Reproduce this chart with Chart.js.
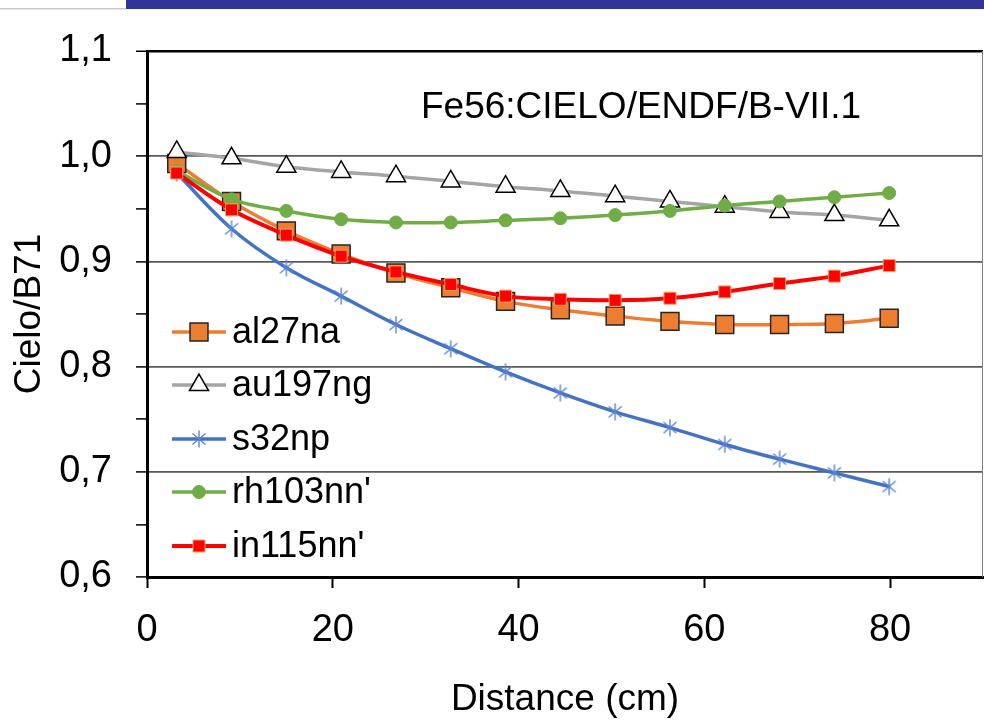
<!DOCTYPE html>
<html>
<head>
<meta charset="utf-8">
<script src="https://cdn.jsdelivr.net/npm/chart.js@4/dist/chart.umd.min.js"></script>
<style>
	body { margin: 0; background: #fff; }
	#wrap { width: 984px; height: 722px; }
</style>
</head>
<body>
<div id="wrap"><canvas id="cielo-chart" width="984" height="722"></canvas></div>
<script>
// distances of the activation foils (cm)
const distances = [3.2, 9.1, 15.0, 20.9, 26.8, 32.7, 38.6, 44.5, 50.4, 56.3, 62.2, 68.1, 74.0, 79.9];

// Cielo / B71 ratios
const al27na = [0.993, 0.957, 0.929, 0.907, 0.889, 0.875, 0.862, 0.854, 0.848, 0.843, 0.840, 0.840, 0.841, 0.846];
const au197ng = [1.004, 0.998, 0.990, 0.985, 0.981, 0.976, 0.971, 0.967, 0.962, 0.957, 0.952, 0.947, 0.944, 0.939];
const s32np = [0.984, 0.931, 0.894, 0.867, 0.840, 0.817, 0.795, 0.775, 0.757, 0.742, 0.726, 0.712, 0.699, 0.686];
const rh103nn = [0.986, 0.959, 0.948, 0.940, 0.937, 0.937, 0.939, 0.941, 0.944, 0.948, 0.953, 0.957, 0.961, 0.965];
const in115nn = [0.984, 0.949, 0.925, 0.905, 0.890, 0.878, 0.867, 0.864, 0.863, 0.865, 0.871, 0.879, 0.886, 0.896];

const seriesNames = ['al27na', 'au197ng', 's32np', "rh103nn'", "in115nn'"];
const xTicks = [0, 20, 40, 60, 80];
const yTicks = [0.6, 0.7, 0.8, 0.9, 1.0, 1.1];
const chartTitle = 'Fe56:CIELO/ENDF/B-VII.1';

const FONT = "'Liberation Sans', Arial, sans-serif";

const toPoints = (ys) => ys.map((y, i) => ({ x: distances[i], y: y }));

// six-armed asterisk like the excel marker
const makeAsterisk = () => {
	const c = document.createElement('canvas');
	c.width = 18;
	c.height = 18;
	const g = c.getContext('2d');
	g.strokeStyle = '#5B83D0';
	g.lineWidth = 1.4;
	g.beginPath();
	g.moveTo(9, 0.5); g.lineTo(9, 17.5);
	g.moveTo(2.5, 3.5); g.lineTo(15.5, 14.5);
	g.moveTo(15.5, 3.5); g.lineTo(2.5, 14.5);
	g.stroke();
	return c;
};

const datasets = [
	{
		label: seriesNames[0], data: toPoints(al27na), order: 5,
		borderColor: '#ED7D31', borderWidth: 3.5,
		pointStyle: 'rect', pointRadius: 12.7, pointBackgroundColor: '#ED7D31',
		pointBorderColor: '#262626', pointBorderWidth: 1.5
	},
	{
		label: seriesNames[1], data: toPoints(au197ng), order: 4,
		borderColor: '#A5A5A5', borderWidth: 3.5,
		pointStyle: 'triangle', pointRadius: 11, pointBackgroundColor: '#FFFFFF',
		pointBorderColor: '#000000', pointBorderWidth: 1.5
	},
	{
		label: seriesNames[2], data: toPoints(s32np), order: 3,
		borderColor: '#4472C4', borderWidth: 3.5,
		pointStyle: makeAsterisk(), pointRadius: 9, pointBackgroundColor: '#4472C4',
		pointBorderColor: '#5B83D0', pointBorderWidth: 1.2
	},
	{
		label: seriesNames[3], data: toPoints(rh103nn), order: 2,
		borderColor: '#70AD47', borderWidth: 3.5,
		pointStyle: 'circle', pointRadius: 6.5, pointBackgroundColor: '#70AD47',
		pointBorderColor: '#70AD47', pointBorderWidth: 1
	},
	{
		label: seriesNames[4], data: toPoints(in115nn), order: 1,
		borderColor: '#FF0000', borderWidth: 4,
		pointStyle: 'rect', pointRadius: 8.5, pointBackgroundColor: '#FF0000',
		pointBorderColor: '#F4A460', pointBorderWidth: 1
	}
];
datasets.forEach(d => { d.tension = 0.35; d.fill = false; d.pointHoverRadius = d.pointRadius; });

const isTenth = (v) => Math.round(v * 100) % 10 === 0;

// slide bar, border, title and legend drawn inside the plot
const decorations = {
	id: 'decorations',
	beforeDraw: (chart) => {
		const ctx = chart.ctx;
		ctx.save();
		ctx.fillStyle = '#333399';
		ctx.fillRect(126, 0, chart.width - 126, 9);
		ctx.fillStyle = '#C8C8C8';
		ctx.fillRect(0, 8, 126, 1.5);
		ctx.restore();
	},
	afterDraw: (chart) => {
		const ctx = chart.ctx;
		const area = chart.chartArea;
		ctx.save();
		ctx.strokeStyle = '#808080';
		ctx.lineWidth = 1;
		ctx.beginPath();
		ctx.moveTo(area.right - 0.5, area.top);
		ctx.lineTo(area.right - 0.5, area.bottom);
		ctx.stroke();

		ctx.fillStyle = '#000';
		ctx.font = `37px ${FONT}`;
		ctx.textAlign = 'center';
		ctx.textBaseline = 'middle';
		ctx.fillText(chartTitle, 641, 108);

		const rowY = [332, 385, 439, 492, 546];
		chart.data.datasets.forEach((d, i) => {
			const y = rowY[i];
			ctx.strokeStyle = d.borderColor;
			ctx.lineWidth = d.borderWidth;
			ctx.beginPath();
			ctx.moveTo(172, y);
			ctx.lineTo(226, y);
			ctx.stroke();
			ctx.fillStyle = d.pointBackgroundColor;
			ctx.strokeStyle = d.pointBorderColor;
			ctx.lineWidth = d.pointBorderWidth;
			if (Chart.helpers && Chart.helpers.drawPoint) {
				Chart.helpers.drawPoint(ctx, { pointStyle: d.pointStyle, radius: d.pointRadius, rotation: 0, borderWidth: d.pointBorderWidth }, 199, y);
			}
			ctx.fillStyle = '#000';
			ctx.font = `36px ${FONT}`;
			ctx.textAlign = 'left';
			ctx.textBaseline = 'middle';
			ctx.fillText(d.label, 232, y + 1);
		});
		ctx.restore();
	}
};

const chart = new Chart(document.getElementById('cielo-chart').getContext('2d'), {
	type: 'line',
	data: { datasets },
	plugins: [decorations],
	options: {
		responsive: false,
		animation: false,
		devicePixelRatio: 1,
		layout: { autoPadding: false, padding: { top: 51, right: 1, left: 0, bottom: 0 } },
		plugins: {
			legend: { display: false },
			tooltip: { enabled: false }
		},
		scales: {
			x: {
				type: 'linear',
				min: 0,
				max: 90,
				afterFit: (s) => { s.height = 145; },
				ticks: {
					stepSize: xTicks[1] - xTicks[0],
					includeBounds: false,
					color: '#000',
					font: { family: FONT, size: 38 },
					padding: 20,
					maxRotation: 0
				},
				grid: {
					drawOnChartArea: false,
					drawTicks: true,
					tickLength: 11,
					tickColor: '#000',
					tickWidth: 2
				},
				border: { color: '#000', width: 3 },
				title: {
					display: true,
					text: 'Distance (cm)',
					color: '#000',
					font: { family: FONT, size: 37 },
					padding: { top: 0, bottom: 0 }
				}
			},
			y: {
				min: yTicks[0],
				max: yTicks[yTicks.length - 1],
				afterFit: (s) => { s.width = 147; },
				ticks: {
					stepSize: 0.05,
					color: '#000',
					font: { family: FONT, size: 38 },
					padding: 24,
					callback: (v) => isTenth(v) ? (Math.round(v * 10) / 10).toFixed(1).replace('.', ',') : ''
				},
				grid: {
					color: (c) => {
						const v = c.tick ? c.tick.value : 0;
						if (!isTenth(v) || v < 0.65) return 'rgba(0,0,0,0)';
						return v > 1.05 ? '#000' : '#595959';
					},
					lineWidth: (c) => (c.tick && c.tick.value > 1.05) ? 2.5 : 1.8,
					tickLength: 11,
					tickColor: '#000',
					tickWidth: 1.5
				},
				border: { color: '#000', width: 3 },
				title: {
					display: true,
					text: 'Cielo/B71',
					color: '#000',
					font: { family: FONT, size: 37 },
					padding: { top: 8, bottom: 0 }
				}
			}
		}
	}
});
</script>
</body>
</html>
